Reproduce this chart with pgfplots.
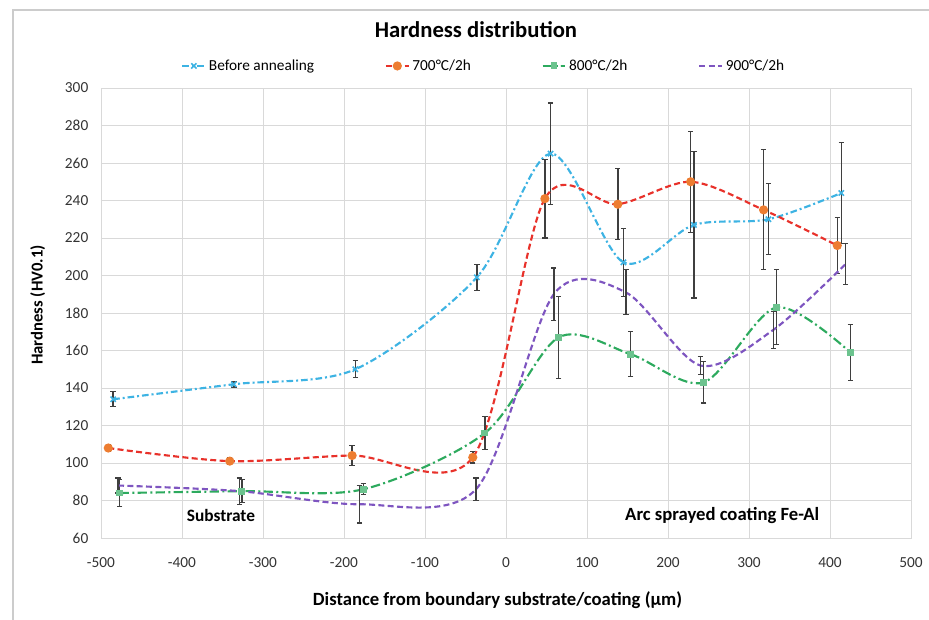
\documentclass[border=0pt]{standalone}
\usepackage{pgfplots}
\pgfplotsset{compat=1.18}
\usepackage{fontspec}
\setmainfont{Carlito}
\definecolor{ccyan}{HTML}{3DB3E3}
\definecolor{cred}{HTML}{E8312A}
\definecolor{corange}{HTML}{ED7D31}
\definecolor{cgreen}{HTML}{2DAA5E}
\definecolor{cpurple}{HTML}{7E55C0}
\definecolor{cerr}{HTML}{3F3F3F}
\begin{document}
\begin{tikzpicture}[x=0.75pt,y=0.75pt]
\useasboundingbox (-101,-81) rectangle (828,538);
\draw[black!20, line width=0.8pt] (-88,-90) -- (-88,528) -- (840,528);
\begin{axis}[
  at={(0,0)}, anchor=south west, scale only axis,
  width=607.5pt, height=337.5pt,
  xmin=-500, xmax=500, ymin=60, ymax=300,
  xtick distance=100, ytick distance=20,
  grid=major, major grid style={black!15, line width=0.7pt},
  axis line style={black!15, line width=0.7pt},
  major tick length=0pt,
  /pgf/number format/assume math mode=true,
  /pgf/number format/1000 sep={},
  tick label style={font=\fontsize{11.5}{13}\selectfont, text=black!80},
  yticklabel style={xshift=-6pt},
  xticklabel style={yshift=-11pt},
  xlabel={Distance from boundary substrate/coating (µm)},
  ylabel={Hardness (HV0.1)},
  xlabel style={font=\bfseries\fontsize{14}{16}\selectfont, at={(axis description cs:0.4895,-0.138)}, anchor=center},
  ylabel style={font=\bfseries\fontsize{12.5}{14}\selectfont, at={(axis description cs:-0.078,0.518)}, anchor=center},
  legend columns=4,
  legend style={at={(rel axis cs:0.473,1.049)}, anchor=center, draw=none, fill=none,
    font=\fontsize{11.5}{13}\selectfont, /tikz/every even column/.append style={column sep=51pt}},
  every axis plot/.append style={line width=1.6pt, smooth},
  eb/.style={
    /pgfplots/error bars/y dir=both, /pgfplots/error bars/y explicit,
    /pgfplots/error bars/error bar style={cerr, line width=1.1pt, solid},
    /pgfplots/error bars/error mark options={rotate=90, mark size=2pt, cerr, line width=0.8pt, solid}},
]
\addplot[color=ccyan, dash pattern=on 5pt off 2.2pt on 1.5pt off 2.2pt,
  mark=x, mark size=2.8pt, mark options={solid, ccyan, line width=1.2pt}, eb]
coordinates {
(-485,134) +- (0,4)
(-336,142) +- (0,1.5)
(-186,150) +- (0,4.5)
(-36,199) +- (0,7)
(55,265) +- (0,27)
(145,207) +- (0,18)
(232,227) +- (0,39)
(324,230) +- (0,19)
(414,244) +- (0,27)
};
\addlegendentry{Before annealing}
\addplot[color=cred, dash pattern=on 4.5pt off 2.5pt,
  mark=*, mark size=2.6pt, mark options={solid, fill=corange, draw=corange}, eb]
coordinates {
(-491,108) +- (0,2)
(-341,101) +- (0,2)
(-190,104) +- (0,5.5)
(-41,103) +- (0,3)
(48,241) +- (0,21)
(138,238) +- (0,19)
(228,250) +- (0,27)
(318,235) +- (0,32)
(409,216) +- (0,15)
};
\addlegendentry{700°C/2h}
\addplot[color=cgreen, dash pattern=on 7pt off 2.5pt on 1.5pt off 2.5pt,
  mark=square*, mark size=1.8pt, mark options={solid, fill=cgreen!70, draw=cgreen!70}, eb]
coordinates {
(-477,84) +- (0,7)
(-326,85) +- (0,6)
(-176,86) +- (0,3)
(-26,116) +- (0,9)
(65,167) +- (0,22)
(154,158) +- (0,12)
(244,143) +- (0,11)
(334,183) +- (0,20)
(425,159) +- (0,15)
};
\addlegendentry{800°C/2h}
\addplot[color=cpurple, dash pattern=on 4.5pt off 2.5pt, mark=none, eb]
coordinates {
(-479,88) +- (0,4)
(-329,85) +- (0,7)
(-181,78) +- (0,10)
(-37,86) +- (0,6)
(59,190) +- (0,14)
(148,191) +- (0,12)
(240,152) +- (0,5)
(330,171) +- (0,10)
(419,206) +- (0,11)
};
\addlegendentry{900°C/2h}
\node[font=\bfseries\fontsize{13}{15}\selectfont] at (axis cs:-352,72) {Substrate};
\node[font=\bfseries\fontsize{14}{16}\selectfont] at (axis cs:267,72) {Arc sprayed coating Fe-Al};
\end{axis}
\node[font=\bfseries\fontsize{17}{19}\selectfont] at (375,508) {Hardness distribution};
\end{tikzpicture}
\end{document}
